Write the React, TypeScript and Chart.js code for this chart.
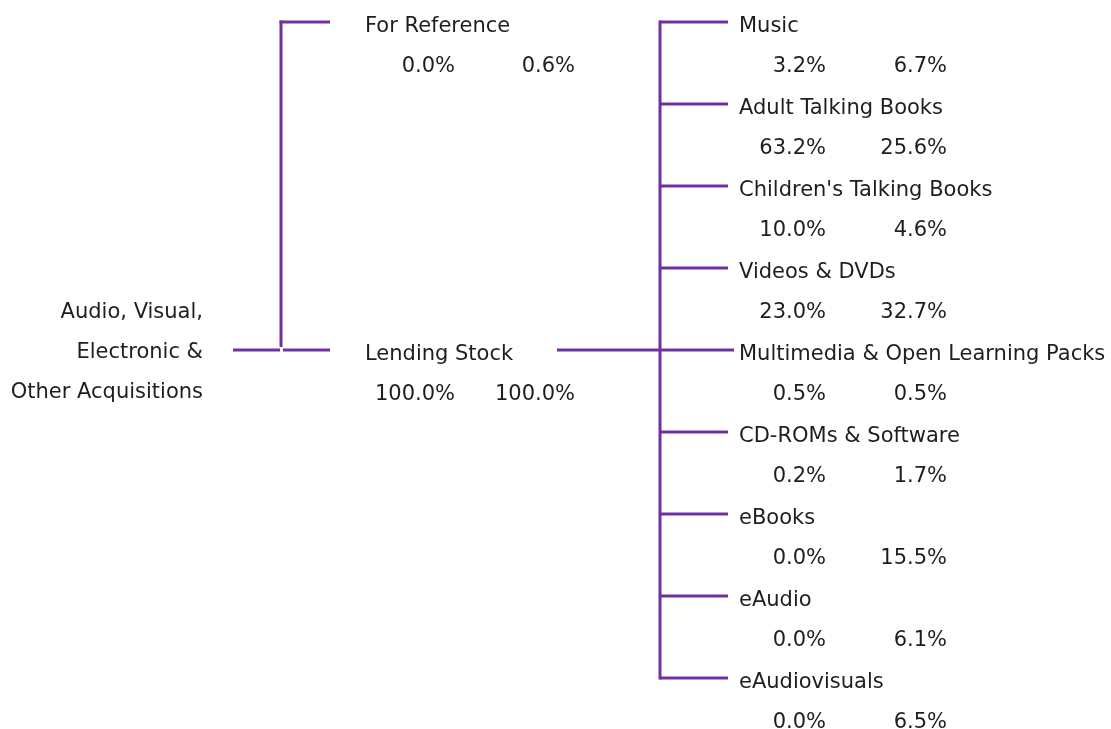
import React, { useEffect, useRef } from "react";
import { Chart, registerables } from "chart.js";

Chart.register(...registerables);

// ---- data ----
const rootLabel = ["Audio, Visual,", "Electronic &", "Other Acquisitions"];
const groupNames = ["For Reference", "Lending Stock"];
const groupValuesA = [0.0, 100.0];
const groupValuesB = [0.6, 100.0];
const itemNames = [
  "Music",
  "Adult Talking Books",
  "Children's Talking Books",
  "Videos & DVDs",
  "Multimedia & Open Learning Packs",
  "CD-ROMs & Software",
  "eBooks",
  "eAudio",
  "eAudiovisuals",
];
const itemValuesA = [3.2, 63.2, 10.0, 23.0, 0.5, 0.2, 0.0, 0.0, 0.0];
const itemValuesB = [6.7, 25.6, 4.6, 32.7, 0.5, 1.7, 15.5, 6.1, 6.5];

// ---- layout / style ----
const W = 1111;
const H = 729;
const LINE_COLOR = "#7030A0";
const TEXT_COLOR = "#1e1e1e";
const FONT = '21px "DejaVu Sans"';
const ROW0 = 22;
const ROW_STEP = 82;
const itemY = itemNames.map((_, i) => ROW0 + ROW_STEP * i);
const groupY = [ROW0, ROW0 + ROW_STEP * 4];
const rootY = groupY[1];

const ROOT_TEXT_RIGHT = 203;
const ROOT_LINE_SPACING = 40;
const ROOT_X0 = 233;
const G_VX = 281;
const G_X1 = 330;
const G_TEXT_X = 365;
const G_VAL_A_RIGHT = 455;
const G_VAL_B_RIGHT = 575;
const I_LINE_X0 = 557;
const I_VX = 660;
const I_X1 = 728;
const I_TEXT_X = 739;
const I_VAL_A_RIGHT = 826;
const I_VAL_B_RIGHT = 947;
const NAME_BASE = 10;
const VAL_BASE = 50;

const fmt = (v: number) => v.toFixed(1) + "%";

type Seg = [number, number, number, number];
const segments: Seg[] = [];
// root -> groups
segments.push([ROOT_X0, rootY, G_VX - 1, rootY]);
segments.push([G_VX + 2, rootY, G_X1, rootY]);
segments.push([G_VX, groupY[0] - 1.5, G_VX, rootY - 3]);
segments.push([G_VX - 1.5, groupY[0], G_X1, groupY[0]]);
// lending stock -> items
segments.push([I_LINE_X0, groupY[1], I_X1 + 6, groupY[1]]);
segments.push([I_VX, itemY[0] - 1.5, I_VX, itemY[itemY.length - 1] + 1.5]);
itemY.forEach((y, i) => {
  if (i === 4) return;
  segments.push([I_VX, y, I_X1, y]);
});

const textPlugin = {
  id: "treeText",
  afterDatasetsDraw(chart: any) {
    const ctx = chart.ctx as CanvasRenderingContext2D;
    const xs = chart.scales.x;
    const ys = chart.scales.y;
    const px = (v: number) => xs.getPixelForValue(v);
    const py = (v: number) => ys.getPixelForValue(v);
    ctx.save();
    ctx.font = FONT;
    ctx.fillStyle = TEXT_COLOR;
    ctx.textBaseline = "alphabetic";
    // root
    ctx.textAlign = "right";
    rootLabel.forEach((t, i) => {
      ctx.fillText(t, px(ROOT_TEXT_RIGHT), py(rootY + 8 + (i - 1) * ROOT_LINE_SPACING));
    });
    // groups
    groupNames.forEach((name, i) => {
      ctx.textAlign = "left";
      ctx.fillText(name, px(G_TEXT_X), py(groupY[i] + NAME_BASE));
      ctx.textAlign = "right";
      ctx.fillText(fmt(groupValuesA[i]), px(G_VAL_A_RIGHT), py(groupY[i] + VAL_BASE));
      ctx.fillText(fmt(groupValuesB[i]), px(G_VAL_B_RIGHT), py(groupY[i] + VAL_BASE));
    });
    // items
    itemNames.forEach((name, i) => {
      ctx.textAlign = "left";
      ctx.fillText(name, px(I_TEXT_X), py(itemY[i] + NAME_BASE));
      ctx.textAlign = "right";
      ctx.fillText(fmt(itemValuesA[i]), px(I_VAL_A_RIGHT), py(itemY[i] + VAL_BASE));
      ctx.fillText(fmt(itemValuesB[i]), px(I_VAL_B_RIGHT), py(itemY[i] + VAL_BASE));
    });
    ctx.restore();
  },
};

export default function App() {
  const ref = useRef<HTMLCanvasElement>(null);
  useEffect(() => {
    if (!ref.current) return;
    const datasets = segments.map((s) => ({
      data: [
        { x: s[0], y: s[1] },
        { x: s[2], y: s[3] },
      ],
      borderColor: LINE_COLOR,
      borderWidth: 3,
      pointRadius: 0,
      showLine: true,
      fill: false,
      tension: 0,
      borderCapStyle: "butt" as const,
    }));
    const chart = new Chart(ref.current, {
      type: "scatter",
      data: { datasets },
      options: {
        animation: false,
        responsive: true,
        maintainAspectRatio: false,
        devicePixelRatio: 1,
        layout: { padding: 0 },
        plugins: { legend: { display: false }, tooltip: { enabled: false } },
        events: [],
        scales: {
          x: { type: "linear", min: 0, max: W, display: false },
          y: { type: "linear", min: 0, max: H, reverse: true, display: false },
        },
      },
      plugins: [textPlugin],
    });
    return () => chart.destroy();
  }, []);
  return (
    <div style={{ position: "fixed", left: 0, top: 0, width: W, height: H, background: "#fff" }}>
      <canvas ref={ref} />
    </div>
  );
}
